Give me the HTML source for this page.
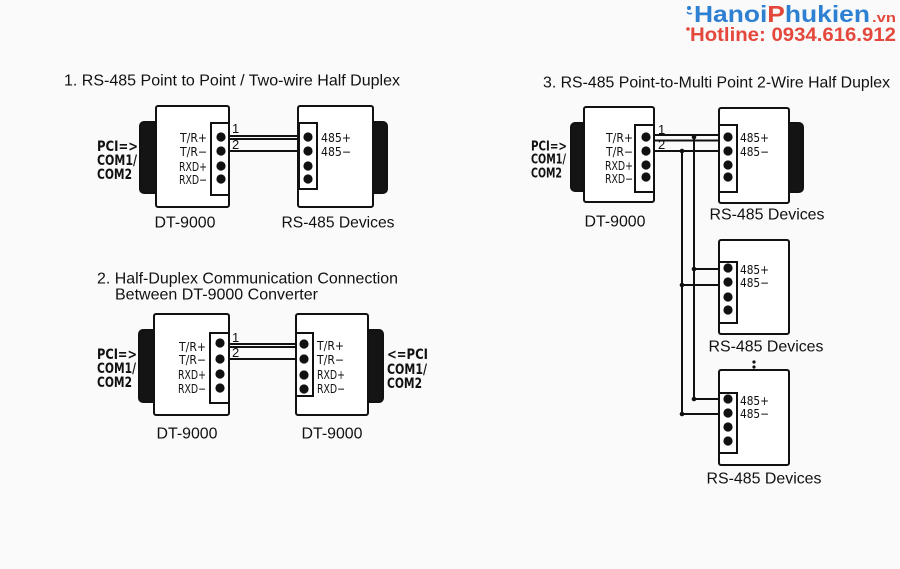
<!DOCTYPE html>
<html><head><meta charset="utf-8"><style>
html,body{margin:0;padding:0;background:#fafafa;}
svg{display:block;}
.t{font-family:"Liberation Sans",Arial,sans-serif;font-size:16px;fill:#111;}
.n{font-family:"Liberation Sans Narrow","DejaVu Sans Condensed","Liberation Sans",sans-serif;font-size:12px;fill:#111;}
.p{font-family:"Liberation Sans Narrow","DejaVu Sans Condensed","Liberation Sans",sans-serif;font-size:14px;font-weight:bold;fill:#111;}
.p3{font-family:"Liberation Sans Narrow","DejaVu Sans Condensed","Liberation Sans",sans-serif;font-size:13px;font-weight:bold;fill:#111;}
.num{font-family:"Liberation Sans",Arial,sans-serif;font-size:13px;fill:#111;}
</style></head><body>
<svg width="900" height="569" viewBox="0 0 900 569" xmlns="http://www.w3.org/2000/svg">
<rect width="900" height="569" fill="#fafafa"/>

<!-- Logo -->
<g font-family="Liberation Sans,Arial,sans-serif" font-weight="bold">
  <circle cx="689" cy="8" r="2" fill="#2e80d2"/>
  <path d="M687 12 q2 3 5 1" stroke="#2e80d2" stroke-width="1.5" fill="none"/>
  <text x="694" y="22" font-size="23" fill="#2e80d2" textLength="176" lengthAdjust="spacingAndGlyphs">Hanoi<tspan fill="#e4483c">P</tspan>hukien</text>
  <text x="872" y="22" font-size="13" fill="#e4483c" textLength="24" lengthAdjust="spacingAndGlyphs">.vn</text>
  <circle cx="688" cy="29" r="1.8" fill="#e4483c"/>
  <text x="690" y="41" font-size="19" fill="#e4483c" textLength="206" lengthAdjust="spacingAndGlyphs">Hotline: 0934.616.912</text>
</g>

<g stroke="#111" stroke-width="2" fill="#fff">
<!-- ========== Section 1 ========== -->
<rect x="140" y="122" width="20" height="71" rx="4" fill="#141414"/>
<rect x="156" y="106" width="73" height="101" rx="2"/>
<rect x="211" y="123" width="18" height="72"/>
<rect x="368" y="122" width="19" height="71" rx="4" fill="#141414"/>
<rect x="298" y="106" width="75" height="101" rx="2"/>
<rect x="299" y="123" width="18" height="66"/>
</g>
<g fill="#111">
<circle cx="221" cy="137" r="4.6"/><circle cx="221" cy="151" r="4.6"/><circle cx="221" cy="166" r="4.6"/><circle cx="221" cy="179" r="4.6"/>
<circle cx="308" cy="137" r="4.6"/><circle cx="308" cy="151" r="4.6"/><circle cx="308" cy="166" r="4.6"/><circle cx="308" cy="179" r="4.6"/>
</g>
<g stroke="#111" stroke-width="2">
<line x1="229" y1="136" x2="299" y2="136"/>
<line x1="229" y1="139" x2="299" y2="139"/>
<line x1="229" y1="151" x2="299" y2="151"/>
</g>
<text class="t" x="64" y="81" dominant-baseline="central" textLength="336" lengthAdjust="spacingAndGlyphs">1. RS-485 Point to Point / Two-wire Half Duplex</text>
<g class="n" text-anchor="end">
<text x="207" y="138" dominant-baseline="central" textLength="27" lengthAdjust="spacingAndGlyphs">T/R+</text>
<text x="207" y="152" dominant-baseline="central" textLength="27" lengthAdjust="spacingAndGlyphs">T/R−</text>
<text x="207" y="167" dominant-baseline="central" textLength="28" lengthAdjust="spacingAndGlyphs">RXD+</text>
<text x="207" y="180" dominant-baseline="central" textLength="28" lengthAdjust="spacingAndGlyphs">RXD−</text>
</g>
<g class="n">
<text x="321" y="138" dominant-baseline="central" textLength="30" lengthAdjust="spacingAndGlyphs">485+</text>
<text x="321" y="152" dominant-baseline="central" textLength="30" lengthAdjust="spacingAndGlyphs">485−</text>
</g>
<text class="num" x="232" y="133">1</text>
<text class="num" x="232" y="149">2</text>
<g class="p">
<text x="97" y="147" dominant-baseline="central" textLength="41" lengthAdjust="spacingAndGlyphs">PCI=&gt;</text>
<text x="97" y="161" dominant-baseline="central" textLength="40" lengthAdjust="spacingAndGlyphs">COM1/</text>
<text x="97" y="175" dominant-baseline="central" textLength="35" lengthAdjust="spacingAndGlyphs">COM2</text>
</g>
<text class="t" x="185" y="223" text-anchor="middle" dominant-baseline="central" textLength="61" lengthAdjust="spacingAndGlyphs">DT-9000</text>
<text class="t" x="338" y="223" text-anchor="middle" dominant-baseline="central" textLength="113" lengthAdjust="spacingAndGlyphs">RS-485 Devices</text>

<!-- ========== Section 2 ========== -->
<g stroke="#111" stroke-width="2" fill="#fff">
<rect x="139" y="330" width="20" height="72" rx="4" fill="#141414"/>
<rect x="154" y="314" width="75" height="101" rx="2"/>
<rect x="210" y="333" width="19" height="70"/>
<rect x="364" y="330" width="19" height="72" rx="4" fill="#141414"/>
<rect x="296" y="314" width="72" height="101" rx="2"/>
<rect x="296" y="333" width="17" height="63"/>
</g>
<g fill="#111">
<circle cx="220" cy="343" r="4.6"/><circle cx="220" cy="359" r="4.6"/><circle cx="220" cy="374" r="4.6"/><circle cx="220" cy="388" r="4.6"/>
<circle cx="304" cy="344" r="4.6"/><circle cx="304" cy="359" r="4.6"/><circle cx="304" cy="375" r="4.6"/><circle cx="304" cy="389" r="4.6"/>
</g>
<g stroke="#111" stroke-width="2">
<line x1="229" y1="344" x2="296" y2="344"/>
<line x1="229" y1="347" x2="296" y2="347"/>
<line x1="229" y1="359" x2="296" y2="359"/>
</g>
<text class="t" x="97" y="279" dominant-baseline="central" textLength="301" lengthAdjust="spacingAndGlyphs">2. Half-Duplex Communication Connection</text>
<text class="t" x="115" y="295" dominant-baseline="central" textLength="203" lengthAdjust="spacingAndGlyphs">Between DT-9000 Converter</text>
<g class="n" text-anchor="end">
<text x="206" y="347" dominant-baseline="central" textLength="27" lengthAdjust="spacingAndGlyphs">T/R+</text>
<text x="206" y="360" dominant-baseline="central" textLength="27" lengthAdjust="spacingAndGlyphs">T/R−</text>
<text x="206" y="375" dominant-baseline="central" textLength="28" lengthAdjust="spacingAndGlyphs">RXD+</text>
<text x="206" y="389" dominant-baseline="central" textLength="28" lengthAdjust="spacingAndGlyphs">RXD−</text>
</g>
<g class="n">
<text x="317" y="346" dominant-baseline="central" textLength="27" lengthAdjust="spacingAndGlyphs">T/R+</text>
<text x="317" y="360" dominant-baseline="central" textLength="27" lengthAdjust="spacingAndGlyphs">T/R−</text>
<text x="317" y="375" dominant-baseline="central" textLength="28" lengthAdjust="spacingAndGlyphs">RXD+</text>
<text x="317" y="389" dominant-baseline="central" textLength="28" lengthAdjust="spacingAndGlyphs">RXD−</text>
</g>
<text class="num" x="232" y="342">1</text>
<text class="num" x="232" y="357">2</text>
<g class="p">
<text x="97" y="355" dominant-baseline="central" textLength="40" lengthAdjust="spacingAndGlyphs">PCI=&gt;</text>
<text x="97" y="369" dominant-baseline="central" textLength="39" lengthAdjust="spacingAndGlyphs">COM1/</text>
<text x="97" y="383" dominant-baseline="central" textLength="35" lengthAdjust="spacingAndGlyphs">COM2</text>
<text x="387" y="355" dominant-baseline="central" textLength="41" lengthAdjust="spacingAndGlyphs">&lt;=PCI</text>
<text x="387" y="370" dominant-baseline="central" textLength="40" lengthAdjust="spacingAndGlyphs">COM1/</text>
<text x="387" y="384" dominant-baseline="central" textLength="35" lengthAdjust="spacingAndGlyphs">COM2</text>
</g>
<text class="t" x="187" y="434" text-anchor="middle" dominant-baseline="central" textLength="61" lengthAdjust="spacingAndGlyphs">DT-9000</text>
<text class="t" x="332" y="434" text-anchor="middle" dominant-baseline="central" textLength="61" lengthAdjust="spacingAndGlyphs">DT-9000</text>

<!-- ========== Section 3 ========== -->
<text class="t" x="543" y="83" dominant-baseline="central" textLength="347" lengthAdjust="spacingAndGlyphs">3. RS-485 Point-to-Multi Point 2-Wire Half Duplex</text>
<g stroke="#111" stroke-width="2" fill="#fff">
<rect x="571" y="123" width="17" height="68" rx="4" fill="#141414"/>
<rect x="584" y="107" width="70" height="95" rx="2"/>
<rect x="635" y="125" width="19" height="67"/>
<rect x="785" y="123" width="18" height="69" rx="4" fill="#141414"/>
<rect x="719" y="108" width="70" height="95" rx="2"/>
<rect x="719" y="125" width="18" height="67"/>
<rect x="719" y="240" width="70" height="94" rx="2"/>
<rect x="719" y="262" width="18" height="61"/>
<rect x="719" y="370" width="70" height="95" rx="2"/>
<rect x="719" y="393" width="18" height="60"/>
</g>
<g fill="#111">
<circle cx="646" cy="137" r="4.6"/><circle cx="646" cy="151" r="4.6"/><circle cx="646" cy="165" r="4.6"/><circle cx="646" cy="177" r="4.6"/>
<circle cx="728" cy="137" r="4.6"/><circle cx="728" cy="151" r="4.6"/><circle cx="728" cy="165" r="4.6"/><circle cx="728" cy="177" r="4.6"/>
<circle cx="728" cy="268" r="4.6"/><circle cx="728" cy="282" r="4.6"/><circle cx="728" cy="297" r="4.6"/><circle cx="728" cy="310" r="4.6"/>
<circle cx="728" cy="399" r="4.6"/><circle cx="728" cy="413" r="4.6"/><circle cx="728" cy="427" r="4.6"/><circle cx="728" cy="441" r="4.6"/>
<circle cx="694" cy="137" r="2.3"/><circle cx="682" cy="151" r="2.3"/>
<circle cx="694" cy="269" r="2.3"/><circle cx="682" cy="285" r="2.3"/>
<circle cx="694" cy="399" r="2.3"/><circle cx="682" cy="414" r="2.3"/>
<circle cx="754" cy="362" r="1.6"/><circle cx="754" cy="367" r="1.6"/>
</g>
<g stroke="#111" stroke-width="2">
<line x1="654" y1="135" x2="719" y2="135"/>
<line x1="654" y1="140.5" x2="719" y2="140.5"/>
<line x1="654" y1="151" x2="719" y2="151"/>
<line x1="694" y1="135" x2="694" y2="399"/>
<line x1="682" y1="151" x2="682" y2="414"/>
<line x1="694" y1="269" x2="719" y2="269"/>
<line x1="682" y1="285" x2="719" y2="285"/>
<line x1="694" y1="399" x2="719" y2="399"/>
<line x1="682" y1="414" x2="719" y2="414"/>
</g>
<g class="n" text-anchor="end">
<text x="633" y="138" dominant-baseline="central" textLength="27" lengthAdjust="spacingAndGlyphs">T/R+</text>
<text x="633" y="152" dominant-baseline="central" textLength="27" lengthAdjust="spacingAndGlyphs">T/R−</text>
<text x="633" y="166" dominant-baseline="central" textLength="28" lengthAdjust="spacingAndGlyphs">RXD+</text>
<text x="633" y="179" dominant-baseline="central" textLength="28" lengthAdjust="spacingAndGlyphs">RXD−</text>
</g>
<g class="n">
<text x="740" y="138" dominant-baseline="central" textLength="29" lengthAdjust="spacingAndGlyphs">485+</text>
<text x="740" y="152" dominant-baseline="central" textLength="29" lengthAdjust="spacingAndGlyphs">485−</text>
<text x="740" y="270" dominant-baseline="central" textLength="29" lengthAdjust="spacingAndGlyphs">485+</text>
<text x="740" y="283" dominant-baseline="central" textLength="29" lengthAdjust="spacingAndGlyphs">485−</text>
<text x="740" y="401" dominant-baseline="central" textLength="29" lengthAdjust="spacingAndGlyphs">485+</text>
<text x="740" y="414" dominant-baseline="central" textLength="29" lengthAdjust="spacingAndGlyphs">485−</text>
</g>
<text class="num" x="658" y="134">1</text>
<text class="num" x="658" y="149">2</text>
<g class="p3">
<text x="531" y="147" dominant-baseline="central" textLength="36" lengthAdjust="spacingAndGlyphs">PCI=&gt;</text>
<text x="531" y="160" dominant-baseline="central" textLength="35" lengthAdjust="spacingAndGlyphs">COM1/</text>
<text x="531" y="174" dominant-baseline="central" textLength="31" lengthAdjust="spacingAndGlyphs">COM2</text>
</g>
<text class="t" x="615" y="222" text-anchor="middle" dominant-baseline="central" textLength="61" lengthAdjust="spacingAndGlyphs">DT-9000</text>
<text class="t" x="767" y="215" text-anchor="middle" dominant-baseline="central" textLength="115" lengthAdjust="spacingAndGlyphs">RS-485 Devices</text>
<text class="t" x="766" y="347" text-anchor="middle" dominant-baseline="central" textLength="115" lengthAdjust="spacingAndGlyphs">RS-485 Devices</text>
<text class="t" x="764" y="479" text-anchor="middle" dominant-baseline="central" textLength="115" lengthAdjust="spacingAndGlyphs">RS-485 Devices</text>
</svg>
</body></html>
